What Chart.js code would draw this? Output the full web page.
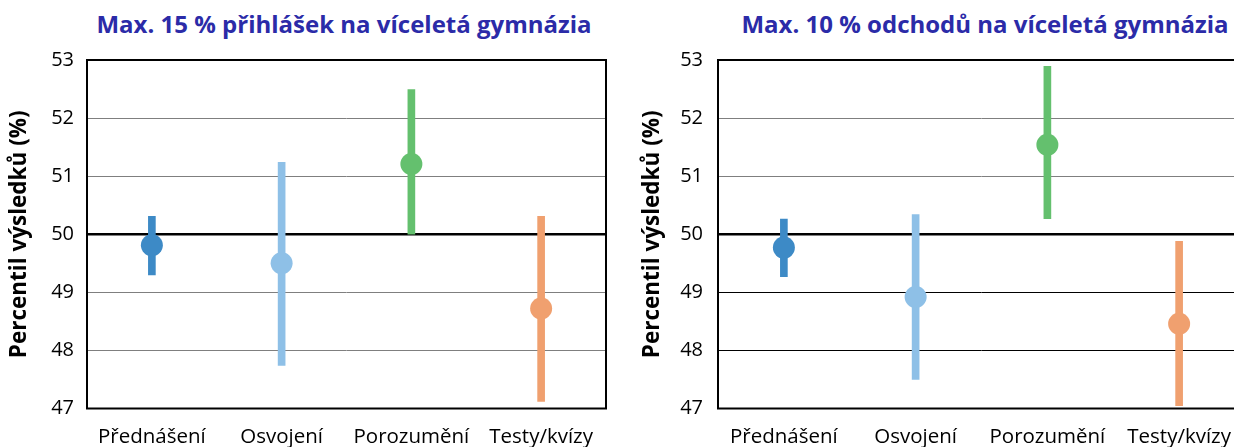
<!DOCTYPE html>
<html><head><meta charset="utf-8">
<script src="https://cdn.jsdelivr.net/npm/chart.js@4.4.0/dist/chart.umd.min.js"></script>
<style>
html,body{margin:0;padding:0;background:#fff;overflow:hidden;width:1234px;height:447px;position:relative;}
.wrap{position:absolute;top:0;height:447px;}
.title{position:absolute;top:11px;font:bold 24px 'Open Sans';line-height:26px;color:#2b2ba8;white-space:nowrap;transform:translateX(-50%);}
</style></head><body>
<div class="title" style="left:344px">Max. 15 % přihlášek na víceletá gymnázia</div>
<div class="title" style="left:985px">Max. 10 % odchodů na víceletá gymnázia</div>
<div class="wrap" style="left:0;width:617px"><canvas id="c1" width="617" height="447"></canvas></div>
<div class="wrap" style="left:617px;width:640px"><canvas id="c2" width="640" height="447"></canvas></div>
<script>
const categories = ['Přednášení', 'Osvojení', 'Porozumění', 'Testy/kvízy'];
const yTicks = [47, 48, 49, 50, 51, 52, 53];
const colors = ['#3d8ac6', '#8ec0e7', '#64c06e', '#f0a06f'];

// Panel 1: Max. 15 % přihlášek na víceletá gymnázia
const means1 = [49.81, 49.50, 51.21, 48.72];
const lows1  = [49.30, 47.74, 50.00, 47.12];
const highs1 = [50.31, 51.24, 52.49, 50.31];

// Panel 2: Max. 10 % odchodů na víceletá gymnázia
const means2 = [49.77, 48.92, 51.54, 48.46];
const lows2  = [49.27, 47.50, 50.27, 47.05];
const highs2 = [50.26, 50.34, 52.89, 49.88];

const FONT = 'Open Sans';

const frame = {
  id: 'frame',
  beforeDatasetsDraw(chart) {
    const a = chart.chartArea, c = chart.ctx;
    c.save();
    c.strokeStyle = '#000';
    c.lineWidth = 2;
    c.strokeRect(a.left, a.top, a.right - a.left, a.bottom - a.top);
    c.restore();
  }
};

function makeChart(id, means, lows, highs, o) {
  return new Chart(document.getElementById(id), {
    data: {
      labels: categories,
      datasets: [
        { type: 'line', data: means, showLine: false, pointRadius: 11, pointHoverRadius: 11,
          pointBackgroundColor: colors, pointBorderWidth: 0, order: 1 },
        { type: 'bar', data: categories.map((c, i) => [lows[i], highs[i]]),
          backgroundColor: colors, barThickness: 7, borderWidth: 0, grouped: false, order: 2 }
      ]
    },
    options: {
      responsive: false, animation: false,
      layout: { padding: { top: 60, left: 0, right: o.pr, bottom: 0 } },
      plugins: { legend: { display: false }, tooltip: { enabled: false } },
      scales: {
        x: {
          offset: true,
          grid: { display: false, drawTicks: false },
          border: { display: false },
          ticks: { font: { family: FONT, size: 20.5 }, color: '#000', padding: 16, maxRotation: 0, autoSkip: false },
          afterFit(s) { s.height = 38.5; }
        },
        y: {
          min: yTicks[0], max: yTicks[yTicks.length - 1],
          afterBuildTicks(s) { s.ticks = yTicks.map(v => ({ value: v })); },
          ticks: { font: { family: FONT, size: 20 }, color: '#000', padding: o.tp },
          grid: {
            drawTicks: false,
            color: c => c.tick && c.tick.value === 50 ? '#000' : (o.gridColor(c.tick ? c.tick.value : 0)),
            lineWidth: c => c.tick && c.tick.value === 50 ? 2.5 : 1
          },
          border: { display: false },
          title: { display: true, text: 'Percentil výsledků (%)', color: '#000',
            font: { family: FONT, size: 22.5, weight: 'bold' }, padding: { top: o.titlePad, bottom: 0 } },
          afterFit(s) { s.width = o.yw; }
        }
      }
    },
    plugins: [frame]
  });
}

makeChart('c1', means1, lows1, highs1, { pr: 10, yw: 87, tp: 13, titlePad: 6.5, gridColor: v => '#7f7f7f' });
makeChart('c2', means2, lows2, highs2, { pr: 12, yw: 101, tp: 15, titlePad: 22.5, gridColor: v => v < 50 ? '#000' : '#7f7f7f' });
</script>
</body></html>
